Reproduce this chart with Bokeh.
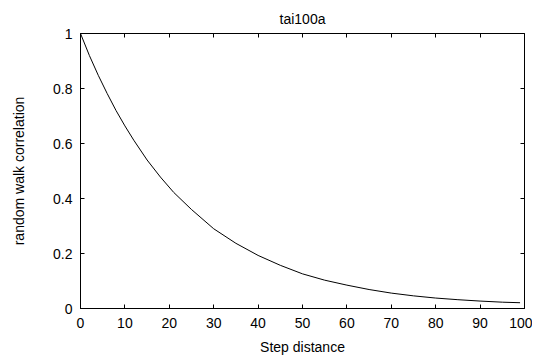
from bokeh.plotting import figure
from bokeh.models import Range1d, FixedTicker, LinearAxis
from bokeh.embed import file_html
from bokeh.resources import INLINE

# data
step = [0, 2, 4, 6, 8, 10, 12, 15, 18, 21, 25, 30, 35, 40, 45, 50, 55, 60,
        65, 70, 75, 80, 85, 90, 95, 99]
corr = [1.0, 0.92, 0.848, 0.782, 0.72, 0.664, 0.612, 0.54, 0.478, 0.422,
        0.36, 0.29, 0.237, 0.193, 0.157, 0.126, 0.103, 0.085, 0.069, 0.056,
        0.046, 0.038, 0.032, 0.027, 0.023, 0.021]
x_ticks = [0, 10, 20, 30, 40, 50, 60, 70, 80, 90, 100]
y_ticks = [0, 0.2, 0.4, 0.6, 0.8, 1]
y_tick_labels = ["0", "0.2", "0.4", "0.6", "0.8", "1"]
title_text = "tai100a"
x_label = "Step distance"
y_label = "random walk correlation"

FONT = "Liberation Sans"
FS = "14px"

p = figure(frame_width=444, frame_height=275,
           min_border_left=80, min_border_right=8,
           min_border_top=33, min_border_bottom=45,
           x_range=Range1d(0, 100), y_range=Range1d(0, 1),
           title=title_text, output_backend="svg", toolbar_location=None,
           x_axis_label=x_label, y_axis_label=y_label)

p.line(step, corr, line_color="black", line_width=1)

p.grid.visible = False
p.outline_line_color = "black"
p.outline_line_width = 1
p.background_fill_color = "white"
p.border_fill_color = "white"

p.title.align = "center"
p.title.text_font = FONT
p.title.text_font_size = FS
p.title.text_font_style = "normal"
p.title.text_color = "black"
p.title.standoff = 14

for ax, ticks in ((p.xaxis[0], x_ticks), (p.yaxis[0], y_ticks)):
    ax.ticker = FixedTicker(ticks=ticks)
    ax.major_tick_in = 4
    ax.major_tick_out = 0
    ax.minor_tick_line_color = None
    ax.axis_line_color = "black"
    ax.major_tick_line_color = "black"
    ax.major_label_text_font = FONT
    ax.major_label_text_font_size = FS
    ax.major_label_text_color = "black"
    ax.axis_label_text_font = FONT
    ax.axis_label_text_font_size = FS
    ax.axis_label_text_font_style = "normal"
    ax.axis_label_text_color = "black"

p.yaxis[0].major_label_overrides = dict(zip(y_ticks, y_tick_labels))
p.yaxis[0].major_label_standoff = 8
p.yaxis[0].axis_label_standoff = 23
p.xaxis[0].major_label_standoff = 9
p.xaxis[0].axis_label_standoff = 8

# mirrored ticks on top and right borders
top = LinearAxis(ticker=FixedTicker(ticks=x_ticks))
right = LinearAxis(ticker=FixedTicker(ticks=y_ticks))
for ax in (top, right):
    ax.major_tick_in = 4
    ax.major_tick_out = 0
    ax.minor_tick_line_color = None
    ax.major_label_text_font_size = "0px"
    ax.major_label_standoff = 0
    ax.axis_line_color = None
    ax.major_tick_line_color = "black"
p.add_layout(top, "above")
p.add_layout(right, "right")

open("out.html", "w").write(file_html(p, INLINE))
